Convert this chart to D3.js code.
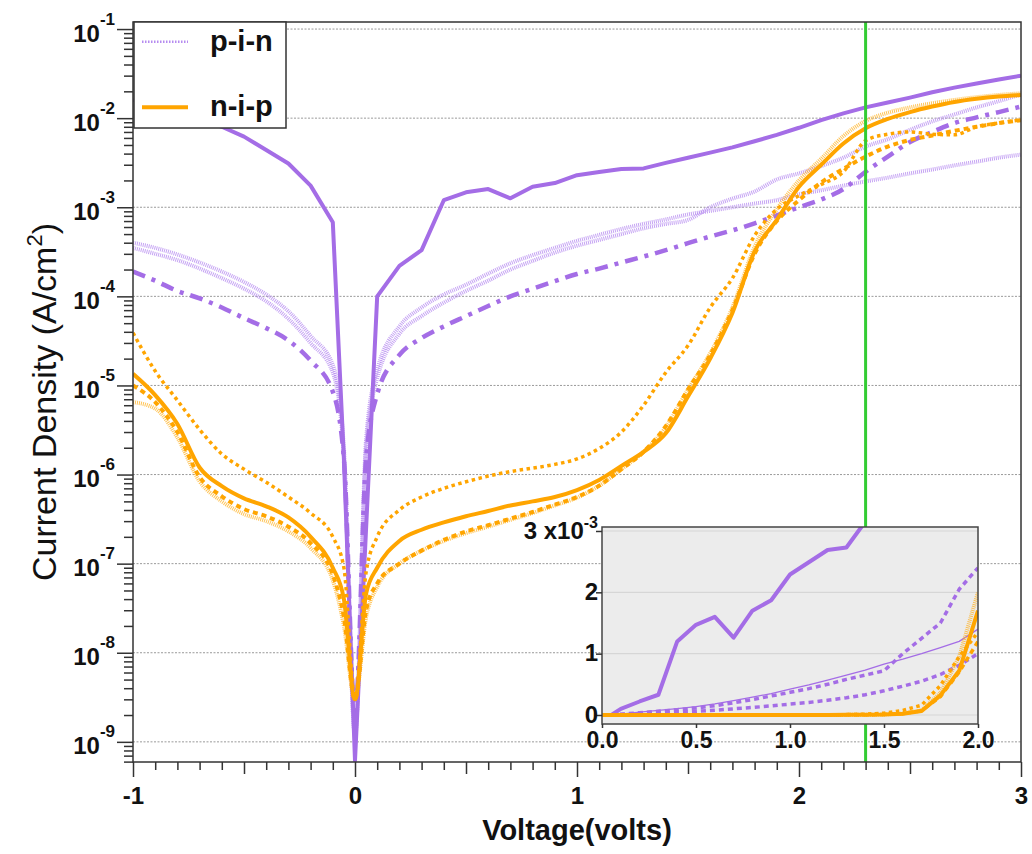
<!DOCTYPE html>
<html><head><meta charset="utf-8">
<script src="https://cdn.jsdelivr.net/npm/d3@7"></script>
<style>
body{margin:0;background:#fff}
svg{display:block}
text{font-family:"Liberation Sans",Arial,Helvetica,sans-serif;fill:#111}
</style>
</head><body>
<svg id="chart" width="1032" height="854"></svg>
<script>
// ---------------- data ----------------
const voltage = [-1,-0.9,-0.8,-0.7,-0.6,-0.5,-0.4,-0.3,-0.2,-0.1,-0.05,0,0.05,
  0.1,0.2,0.3,0.4,0.5,0.6,0.7,0.8,0.9,1.0,1.1,1.2,1.3,1.4,1.5,1.6,1.7,1.8,1.9,2.0,
  2.1,2.2,2.3,2.4,2.5,2.6,2.7,2.8,2.9,3.0];

// p-i-n devices (purple)
const pinSolid = [1.6e-2,1.4e-2,1.2e-2,1.0e-2,8.0e-3,6.2e-3,4.4e-3,3.1e-3,1.75e-3,6.8e-4,1.5e-6,6.2e-10,2.5e-7,
  1.0e-4,2.2e-4,3.3e-4,1.2e-3,1.47e-3,1.6e-3,1.26e-3,1.7e-3,1.87e-3,2.29e-3,2.49e-3,2.69e-3,2.73e-3,3.15e-3,3.6e-3,4.1e-3,4.7e-3,5.5e-3,6.5e-3,7.8e-3,
  9.5e-3,1.13e-2,1.32e-2,1.5e-2,1.7e-2,1.95e-2,2.2e-2,2.45e-2,2.72e-2,3.0e-2];
const pinDashDot = [1.9e-4,1.5e-4,1.15e-4,9.5e-5,7.5e-5,5.7e-5,4.4e-5,3.2e-5,1.9e-5,8.5e-6,1.5e-6,2e-9,1.5e-6,
  8e-6,2.2e-5,3.4e-5,4.6e-5,6.0e-5,7.8e-5,1.0e-4,1.22e-4,1.48e-4,1.78e-4,2.05e-4,2.4e-4,2.8e-4,3.3e-4,3.95e-4,4.7e-4,5.5e-4,6.6e-4,8.1e-4,1.0e-3,
  1.22e-3,1.6e-3,2.5e-3,3.7e-3,5.4e-3,7.0e-3,8.8e-3,1.02e-2,1.17e-2,1.35e-2];
const pinDotA = [4.0e-4,3.5e-4,2.95e-4,2.4e-4,1.9e-4,1.45e-4,1.05e-4,6.8e-5,3.6e-5,1.7e-5,2e-6,1.2e-9,2e-6,
  1.2e-5,3.8e-5,6.0e-5,8.5e-5,1.15e-4,1.5e-4,2.0e-4,2.5e-4,3.1e-4,3.7e-4,4.3e-4,5.0e-4,5.8e-4,6.5e-4,7.2e-4,1.0e-3,1.25e-3,1.5e-3,2.05e-3,2.4e-3,
  2.9e-3,3.6e-3,4.8e-3,5.8e-3,7.4e-3,9.2e-3,1.1e-2,1.32e-2,1.55e-2,1.85e-2];
const pinDotB = [3.5e-4,3.0e-4,2.55e-4,2.05e-4,1.6e-4,1.22e-4,8.8e-5,5.6e-5,3.0e-5,1.4e-5,1.6e-6,1.2e-9,2.5e-6,
  1.5e-5,4.6e-5,7.5e-5,1.05e-4,1.35e-4,1.8e-4,2.35e-4,2.9e-4,3.5e-4,4.2e-4,4.9e-4,5.7e-4,6.5e-4,7.3e-4,8.3e-4,9.1e-4,1.0e-3,1.1e-3,1.2e-3,1.4e-3,
  1.55e-3,1.75e-3,1.95e-3,2.15e-3,2.4e-3,2.65e-3,2.95e-3,3.25e-3,3.6e-3,3.9e-3];

// n-i-p devices (orange)
const nipSolid = [1.35e-5,7.8e-6,3.7e-6,1.2e-6,7.4e-7,5.4e-7,4.4e-7,3.3e-7,2.0e-7,9e-8,4e-8,3e-9,4.6e-8,
  9e-8,1.8e-7,2.4e-7,2.9e-7,3.4e-7,3.9e-7,4.5e-7,5.0e-7,5.6e-7,6.7e-7,8.7e-7,1.25e-6,1.8e-6,2.9e-6,7.5e-6,2.0e-5,6.5e-5,3.2e-4,7.2e-4,1.7e-3,
  3.0e-3,5.2e-3,7.7e-3,9.8e-3,1.17e-2,1.35e-2,1.52e-2,1.65e-2,1.75e-2,1.82e-2];
const nipDotted = [3.9e-5,1.45e-5,6.8e-6,3.2e-6,1.7e-6,1.15e-6,8.2e-7,5.6e-7,3.7e-7,2.0e-7,9e-8,3e-9,8e-8,
  2.0e-7,4.0e-7,5.6e-7,7.0e-7,8.3e-7,9.6e-7,1.08e-6,1.18e-6,1.3e-6,1.5e-6,1.96e-6,3.0e-6,6.0e-6,1.4e-5,2.8e-5,7.5e-5,1.6e-4,4.8e-4,9.5e-4,1.35e-3,
  1.8e-3,2.5e-3,5.6e-3,6.6e-3,7.0e-3,6.6e-3,6.5e-3,8.0e-3,8.8e-3,9.6e-3];
const nipDashed = [1.0e-5,6.5e-6,3.0e-6,9.4e-7,5.7e-7,4.1e-7,3.4e-7,2.6e-7,1.7e-7,7.5e-8,2.5e-8,3e-9,3e-8,
  6e-8,1.0e-7,1.4e-7,1.85e-7,2.3e-7,2.7e-7,3.2e-7,3.8e-7,4.6e-7,5.6e-7,7.5e-7,1.15e-6,1.8e-6,3.5e-6,9e-6,2.2e-5,7e-5,3.0e-4,7.0e-4,1.2e-3,
  1.9e-3,2.7e-3,3.7e-3,4.8e-3,5.7e-3,6.4e-3,7.2e-3,8.0e-3,8.8e-3,9.5e-3];
const nipDotLight = [6.5e-6,5.5e-6,2.6e-6,8.4e-7,5.0e-7,3.6e-7,3.0e-7,2.3e-7,1.5e-7,6.5e-8,2e-8,3e-9,2.5e-8,
  5.5e-8,1.0e-7,1.4e-7,1.8e-7,2.2e-7,2.6e-7,3.1e-7,3.7e-7,4.5e-7,5.5e-7,7.5e-7,1.15e-6,1.8e-6,3.4e-6,9e-6,2.3e-5,7.5e-5,3.6e-4,9.5e-4,2.0e-3,
  3.5e-3,6.3e-3,9.3e-3,1.15e-2,1.32e-2,1.47e-2,1.6e-2,1.72e-2,1.82e-2,1.9e-2];

const markerVoltage = 2.3;
const yDecades = [-9,-8,-7,-6,-5,-4,-3,-2,-1];
const xMajorTicks = [-1,0,1,2,3];
const insetXTicks = [0,0.5,1.0,1.5,2.0];
const insetYTicks = [0,1e-3,2e-3,3e-3];
const legendItems = [{label:"p-i-n", key:"pin"},{label:"n-i-p", key:"nip"}];

// ---------------- styles ----------------
const PURPLE = "#a46de6", PURPLE_L = "#b68cf0", ORANGE = "#ffa500", ORANGE_L = "#ffb01f";
const mainStyles = [
  {data:pinDotA,   color:PURPLE_L, w:4,   dash:"1,1", op:0.8, smooth:true},
  {data:pinDotB,   color:PURPLE_L, w:4,   dash:"1,1", op:0.8, smooth:true},
  {data:pinDashDot,color:PURPLE,   w:4.5, dash:"13,7,4,7", op:1, smooth:true},
  {data:pinSolid,  color:PURPLE,   w:4,   dash:null, op:1, smooth:false},
  {data:nipDotLight,color:ORANGE_L,w:4,   dash:"1,1", op:0.75, smooth:true},
  {data:nipDashed, color:ORANGE,   w:4,   dash:"5,4", op:1, smooth:true},
  {data:nipDotted, color:ORANGE,   w:3.5, dash:"3.5,3.5", op:1, smooth:true},
  {data:nipSolid,  color:ORANGE,   w:4,   dash:null, op:1, smooth:true}
];
const insetStyles = [
  {data:pinDotB,   color:PURPLE,   w:1.3, dash:null, op:1},
  {data:pinDotA,   color:PURPLE,   w:3.5, dash:"5,4", op:1},
  {data:pinDashDot,color:PURPLE,   w:3.5, dash:"5,4", op:1},
  {data:pinSolid,  color:PURPLE,   w:4,   dash:null, op:1},
  {data:nipDotLight,color:ORANGE_L,w:4,   dash:"1,1", op:0.75},
  {data:nipDashed, color:ORANGE,   w:3.5, dash:"5,4", op:1},
  {data:nipDotted, color:ORANGE,   w:3.5, dash:"3.5,3.5", op:1},
  {data:nipSolid,  color:ORANGE,   w:4,   dash:null, op:1}
];

// ---------------- scales ----------------
const svg = d3.select("#chart");
const M = {l:133, r:1021, t:22, b:762};
const x = d3.scaleLinear().domain([-1,3]).range([M.l,M.r]);
const y = d3.scaleLog().domain([5.94e-10,0.12]).range([M.b,M.t]);
const hyphen = d => String(d).replace("\u2212","-");

const defs = svg.append("defs");
defs.append("clipPath").attr("id","mainClip").append("rect")
  .attr("x",M.l).attr("y",M.t).attr("width",M.r-M.l).attr("height",M.b-M.t);

// grid
svg.append("g").selectAll("line").data(yDecades).join("line")
  .attr("x1",M.l).attr("x2",M.r)
  .attr("y1",d=>y(Math.pow(10,d))).attr("y2",d=>y(Math.pow(10,d)))
  .attr("stroke","#9a9a9a").attr("stroke-width",1).attr("stroke-dasharray","2,1.5");

// data lines
const pts = arr => voltage.map((v,i)=>({v, j:arr[i]}));
const lineLin = d3.line().x(d=>x(d.v)).y(d=>y(d.j));
const lineSm = d3.line().x(d=>x(d.v)).y(d=>y(d.j)).curve(d3.curveMonotoneX);
const gData = svg.append("g").attr("clip-path","url(#mainClip)");
mainStyles.forEach(s=>{
  gData.append("path").datum(pts(s.data)).attr("d",s.smooth?lineSm:lineLin)
    .attr("fill","none").attr("stroke",s.color).attr("stroke-width",s.w)
    .attr("stroke-dasharray",s.dash).attr("stroke-opacity",s.op)
    .attr("stroke-linejoin","round");
});

// marker line
svg.append("line").attr("x1",x(markerVoltage)).attr("x2",x(markerVoltage))
  .attr("y1",M.t).attr("y2",M.b).attr("stroke","#33cc33").attr("stroke-width",3);

// ---------------- inset ----------------
const I = {l:602, r:978, t:527, b:724};
const xi = d3.scaleLinear().domain([0,2]).range([I.l,I.r]);
const yi = d3.scaleLinear().domain([-0.147e-3,3.065e-3]).range([I.b,I.t]);
defs.append("clipPath").attr("id","insetClip").append("rect")
  .attr("x",I.l).attr("y",I.t).attr("width",I.r-I.l).attr("height",I.b-I.t);
const gi = svg.append("g");
gi.append("rect").attr("x",I.l).attr("y",I.t).attr("width",I.r-I.l).attr("height",I.b-I.t)
  .attr("fill","#ececec");
gi.append("g").selectAll("line").data(insetYTicks).join("line")
  .attr("x1",I.l).attr("x2",I.r).attr("y1",d=>yi(d)).attr("y2",d=>yi(d))
  .attr("stroke","#d6d6d6").attr("stroke-width",1.2);
const lineI = d3.line().x(d=>xi(d.v)).y(d=>yi(d.j));
const gid = gi.append("g").attr("clip-path","url(#insetClip)");
insetStyles.forEach(s=>{
  gid.append("path").datum(pts(s.data).filter(d=>d.v>=0 && d.v<=2)).attr("d",lineI)
    .attr("fill","none").attr("stroke",s.color).attr("stroke-width",s.w)
    .attr("stroke-dasharray",s.dash).attr("stroke-opacity",s.op)
    .attr("stroke-linejoin","round");
});
gi.append("rect").attr("x",I.l).attr("y",I.t).attr("width",I.r-I.l).attr("height",I.b-I.t)
  .attr("fill","none").attr("stroke","#444").attr("stroke-width",1.5);

const axXi = gi.append("g").attr("transform",`translate(0,${I.b})`)
  .call(d3.axisBottom(xi).tickValues(insetXTicks).tickFormat(d3.format(".1f")).tickSize(4).tickPadding(4));
const axYi = gi.append("g").attr("transform",`translate(${I.l},0)`)
  .call(d3.axisLeft(yi).tickValues(insetYTicks).tickSize(6).tickPadding(-2).tickFormat(d=>""));
[axXi,axYi].forEach(a=>{
  a.select(".domain").remove();
  a.selectAll(".tick line").attr("stroke","#333").attr("stroke-width",1.5);
  a.selectAll("text").style("font-weight","bold").attr("fill","#111");
});
axXi.selectAll("text").style("font-size","23px");
axYi.selectAll("text").style("font-size","24px");
axYi.selectAll(".tick text").attr("dy","0.3em").each(function(d){
  const t = d3.select(this);
  const k = Math.round(d*1e3);
  if(k===3){
    t.append("tspan").text("3 x10");
    t.append("tspan").text("-3").attr("dy","-11").style("font-size","16px");
  } else t.text(String(k));
});

// ---------------- main axes ----------------
const minorY = y.ticks().filter(v=>{const e=Math.log10(v);return Math.abs(e-Math.round(e))>1e-6;});
const axYmin = svg.append("g").attr("transform",`translate(${M.l},0)`)
  .call(d3.axisLeft(y).tickValues(minorY).tickSize(9).tickFormat(""));
const axY = svg.append("g").attr("transform",`translate(${M.l},0)`)
  .call(d3.axisLeft(y).tickValues(yDecades.map(d=>Math.pow(10,d))).tickSize(16).tickPadding(2).tickFormat(""));
axY.selectAll(".tick text").attr("dy","12").style("font-size","24px").style("font-weight","bold")
  .each(function(d){
    const t = d3.select(this);
    t.append("tspan").text("10");
    t.append("tspan").text(String(Math.round(Math.log10(d)))).attr("dy","-17").style("font-size","17px");
  });

const xMinor = d3.range(-10,31).map(k=>k/10).filter(v=>Math.abs(v*2-Math.round(v*2))>1e-6);
const xHalf = [-0.5,0.5,1.5,2.5];
const axXmin = svg.append("g").attr("transform",`translate(0,${M.b})`)
  .call(d3.axisBottom(x).tickValues(xMinor).tickSize(8).tickFormat(""));
const axXhalf = svg.append("g").attr("transform",`translate(0,${M.b})`)
  .call(d3.axisBottom(x).tickValues(xHalf).tickSize(12).tickFormat(""));
const axX = svg.append("g").attr("transform",`translate(0,${M.b})`)
  .call(d3.axisBottom(x).tickValues(xMajorTicks).tickSize(15).tickPadding(10).tickFormat(d=>hyphen(d3.format("d")(d))));
axX.selectAll(".tick text").style("font-size","24px").style("font-weight","bold");

[axYmin,axY,axXmin,axXhalf,axX].forEach(a=>{
  a.select(".domain").remove();
  a.selectAll(".tick line").attr("stroke","#333").attr("stroke-width",1.5);
  a.selectAll("text").attr("fill","#111");
});

// frame
svg.append("rect").attr("x",M.l).attr("y",M.t).attr("width",M.r-M.l).attr("height",M.b-M.t)
  .attr("fill","none").attr("stroke","#333").attr("stroke-width",1.5);

// titles
svg.append("text").attr("x",x(1)).attr("y",840).attr("text-anchor","middle")
  .style("font-size","29px").style("font-weight","bold").text("Voltage(volts)");
const yt = svg.append("text").attr("transform",`translate(56,402) rotate(-90)`)
  .attr("text-anchor","middle").style("font-size","34px");
yt.append("tspan").text("Current Density (A/cm");
yt.append("tspan").text("2").attr("dy","-14").style("font-size","22px");
yt.append("tspan").text(")").attr("dy","14");

// ---------------- legend ----------------
const lg = svg.append("g");
lg.append("rect").attr("x",134).attr("y",22).attr("width",152).attr("height",106)
  .attr("fill","#fff").attr("stroke","#333").attr("stroke-width",1.5);
const lgY = d3.scalePoint().domain(legendItems.map(d=>d.key)).range([41.7,107.3]);
legendItems.forEach(it=>{
  const yy = lgY(it.key);
  const ln = lg.append("line").attr("x1",142).attr("x2",188).attr("y1",yy).attr("y2",yy);
  if(it.key==="pin") ln.attr("stroke",PURPLE_L).attr("stroke-width",2.5).attr("stroke-dasharray","1.5,1.5");
  else ln.attr("stroke",ORANGE).attr("stroke-width",4);
  lg.append("text").attr("x",210).attr("y",yy+9).style("font-size","29px").style("font-weight","bold").text(it.label);
});
</script>
</body></html>
